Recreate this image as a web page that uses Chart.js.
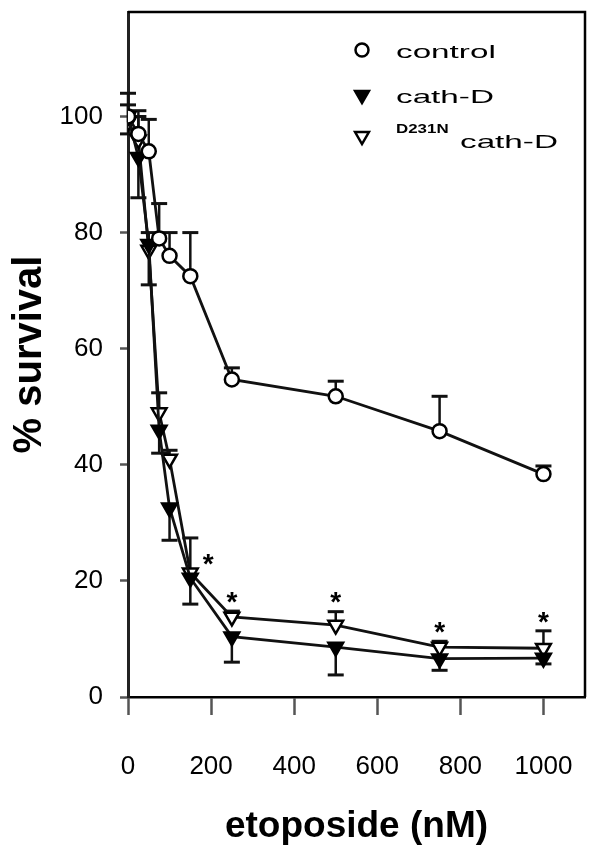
<!DOCTYPE html>
<html><head><meta charset="utf-8">
<script src="https://cdn.jsdelivr.net/npm/chart.js@4/dist/chart.umd.min.js"></script>
<style>html,body{margin:0;padding:0;background:#fff}#wrap{width:600px;height:857px;position:relative}</style>
</head><body><div id="wrap"><canvas id="c" width="600" height="857"></canvas></div>
<script>
// ---- data ----
const concentrations = [0, 25, 50, 75, 100, 150, 250, 500, 750, 1000];
const controlSurvival = [100, 97, 94, 79, 76, 72.5, 54.7, 51.8, 45.8, 38.4];
const controlErrUp    = [4, 4, 5.5, 6, 4, 7.5, 2, 2.6, 6, 1.4];
const cathDSurvival   = [100, 93, 78, 46, 32.6, 20.5, 10.4, 8.6, 6.6, 6.7];
const cathDErrDown    = [3, 7, 7, 4, 5.6, 4.5, 4.4, 4.8, 2.0, 1.0];
const mutantSurvival  = [99, 96, 77, 49, 41, 21.4, 13.8, 12.4, 8.6, 8.4];
const mutantErrUp     = [3, 4, 3, 3.4, 1.5, 6, 1, 2.3, 1, 3];
const starConcentrations = [150, 250, 500, 750, 1000];
const xTickValues = [0, 200, 400, 600, 800, 1000];
const yTickValues = [0, 20, 40, 60, 80, 100];
const legendLabels = ['control', 'cath-D', 'cath-D'];
const legendSuperscript = ['', '', 'D231N'];
const xTitle = 'etoposide (nM)';
const yTitle = '% survival';

const FONT = '"Liberation Sans", Arial, sans-serif';
const toPts = (ys) => concentrations.map((x, i) => ({x: x, y: ys[i]}));

const errorBarPlugin = {
  id: 'errorBars',
  beforeDatasetsDraw(chart) {
    const ctx = chart.ctx, xs = chart.scales.x, ys = chart.scales.y;
    const sets = [
      {vals: controlSurvival, err: controlErrUp, dir: 1},
      {vals: cathDSurvival, err: cathDErrDown, dir: -1},
      {vals: mutantSurvival, err: mutantErrUp, dir: 1}
    ];
    ctx.save();
    ctx.strokeStyle = '#111';
    sets.forEach(s => {
      concentrations.forEach((c, i) => {
        const px = xs.getPixelForValue(c);
        const py = ys.getPixelForValue(s.vals[i]);
        const pe = ys.getPixelForValue(s.vals[i] + s.dir * s.err[i]);
        ctx.lineWidth = 2.5;
        ctx.beginPath(); ctx.moveTo(px, py); ctx.lineTo(px, pe); ctx.stroke();
        ctx.lineWidth = 3;
        ctx.beginPath(); ctx.moveTo(px - 8, pe); ctx.lineTo(px + 8, pe); ctx.stroke();
      });
    });
    ctx.restore();
  }
};

const starPlugin = {
  id: 'stars',
  afterDatasetsDraw(chart) {
    const ctx = chart.ctx, xs = chart.scales.x, ys = chart.scales.y;
    ctx.save();
    ctx.fillStyle = '#000';
    ctx.font = 'bold 28px ' + FONT;
    ctx.textAlign = 'center';
    ctx.textBaseline = 'middle';
    starConcentrations.forEach((c, k) => {
      const i = concentrations.indexOf(c);
      let px = xs.getPixelForValue(c);
      let py;
      if (k === 0) { px += 18; py = ys.getPixelForValue(mutantSurvival[i]) - 13; }
      else { py = ys.getPixelForValue(mutantSurvival[i] + mutantErrUp[i]) - 14; }
      ctx.fillText('*', px, py + 6);
    });
    ctx.restore();
  }
};

function drawMarker(ctx, kind, x, y) {
  ctx.save();
  ctx.lineWidth = 2.5;
  ctx.strokeStyle = '#000';
  if (kind === 'circle') {
    ctx.fillStyle = '#fff';
    ctx.beginPath(); ctx.arc(x, y, 6.5, 0, Math.PI * 2); ctx.fill(); ctx.stroke();
  } else {
    const r = 8;
    ctx.fillStyle = kind === 'triFilled' ? '#000' : '#fff';
    ctx.beginPath();
    ctx.moveTo(x - r * 0.866, y - r * 0.5);
    ctx.lineTo(x + r * 0.866, y - r * 0.5);
    ctx.lineTo(x, y + r);
    ctx.closePath(); ctx.fill(); ctx.stroke();
  }
  ctx.restore();
}

const legendPlugin = {
  id: 'customLegend',
  afterDraw(chart) {
    const ctx = chart.ctx, a = chart.chartArea;
    const mx = a.left + 234, tx = a.left + 268;
    const rows = [38, 83, 124];
    const kinds = ['circle', 'triFilled', 'triOpen'];
    rows.forEach((dy, i) => {
      drawMarker(ctx, kinds[i], mx, a.top + dy);
    });
    ctx.save();
    ctx.fillStyle = '#000';
    ctx.textBaseline = 'alphabetic';
    ctx.textAlign = 'left';
    [0, 1].forEach(i => {
      ctx.save();
      ctx.translate(tx, a.top + rows[i] + 8);
      ctx.scale(1.75, 1);
      ctx.font = '19px ' + FONT;
      ctx.fillText(legendLabels[i], 0, 0);
      ctx.restore();
    });
    ctx.save();
    ctx.translate(tx, a.top + rows[2] - 3);
    ctx.scale(1.3, 1);
    ctx.font = 'bold 13px ' + FONT;
    ctx.fillText(legendSuperscript[2], 0, 0);
    ctx.restore();
    ctx.save();
    ctx.translate(tx + 64, a.top + rows[2] + 12);
    ctx.scale(1.75, 1);
    ctx.font = '19px ' + FONT;
    ctx.fillText(legendLabels[2], 0, 0);
    ctx.restore();
    ctx.restore();
  }
};

const framePlugin = {
  id: 'frame',
  afterDraw(chart) {
    const ctx = chart.ctx, a = chart.chartArea;
    ctx.save();
    ctx.strokeStyle = '#000';
    ctx.lineWidth = 2.5;
    ctx.beginPath();
    ctx.moveTo(a.left, a.top);
    ctx.lineTo(a.right, a.top);
    ctx.lineTo(a.right, a.bottom);
    ctx.stroke();
    ctx.restore();
  }
};

const lineStyle = {borderColor: '#111', borderWidth: 2.8, tension: 0, pointBorderColor: '#000', pointBorderWidth: 2.5, showLine: true};

new Chart(document.getElementById('c'), {
  type: 'scatter',
  data: {
    datasets: [
      Object.assign({label: legendLabels[0], data: toPts(controlSurvival), pointStyle: 'circle', pointRadius: 7, pointBackgroundColor: '#fff'}, lineStyle),
      Object.assign({label: legendLabels[1], data: toPts(cathDSurvival), pointStyle: 'triangle', pointRotation: 180, pointRadius: 8.5, pointBackgroundColor: '#000'}, lineStyle),
      Object.assign({label: legendSuperscript[2] + ' ' + legendLabels[2], data: toPts(mutantSurvival), pointStyle: 'triangle', pointRotation: 180, pointRadius: 8.5, pointBackgroundColor: '#fff'}, lineStyle)
    ]
  },
  options: {
    responsive: false,
    animation: false,
    devicePixelRatio: 1,
    layout: {autoPadding: false, padding: {top: 12, right: 15, left: 0, bottom: 0}},
    plugins: {legend: {display: false}, tooltip: {enabled: false}},
    scales: {
      x: {
        type: 'linear', min: 0, max: 1100,
        afterFit: s => { s.height = 160; s.paddingLeft = 0; s.paddingRight = 0; },
        afterBuildTicks: s => { s.ticks = xTickValues.map(v => ({value: v})); },
        ticks: {font: {family: FONT, size: 26}, color: '#000', padding: 36, maxRotation: 0, autoSkip: false, callback: v => String(v)},
        grid: {drawOnChartArea: false, drawTicks: true, tickLength: 18, tickColor: '#555', tickWidth: 2.5},
        border: {display: true, color: '#000', width: 2.5},
        title: {display: true, text: xTitle, color: '#000', font: {family: FONT, size: 37, weight: 'bold'}, padding: {top: 0, bottom: 8}}
      },
      y: {
        type: 'linear', min: 0, max: 118,
        afterFit: s => { s.width = 128; s.paddingTop = 0; s.paddingBottom = 0; },
        afterBuildTicks: s => { s.ticks = yTickValues.map(v => ({value: v})); },
        ticks: {font: {family: FONT, size: 26}, color: '#000', padding: 17, autoSkip: false, callback: v => String(v)},
        grid: {drawOnChartArea: false, drawTicks: true, tickLength: 8, tickColor: '#555', tickWidth: 2.5},
        border: {display: true, color: '#222', width: 3},
        title: {display: true, text: yTitle, color: '#000', font: {family: FONT, size: 40, weight: 'bold'}, padding: {top: 6, bottom: 0}}
      }
    }
  },
  plugins: [errorBarPlugin, starPlugin, legendPlugin, framePlugin]
});
</script>
</body></html>
